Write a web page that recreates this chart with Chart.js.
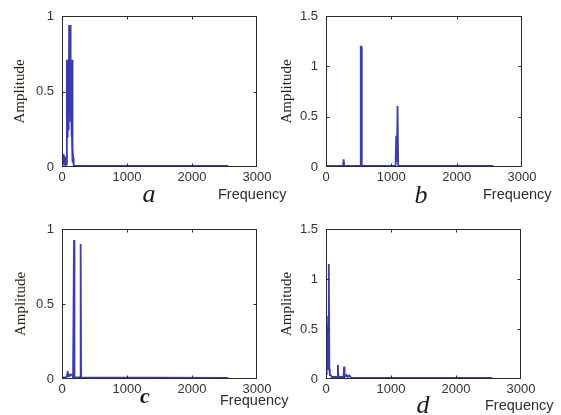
<!DOCTYPE html>
<html><head><meta charset="utf-8">
<script src="https://cdn.jsdelivr.net/npm/chart.js@4.4.0/dist/chart.umd.min.js"></script>
<style>
html,body{margin:0;padding:0;background:#fff;width:561px;height:415px;overflow:hidden;position:relative}
canvas{position:absolute}
</style></head><body>
<canvas id="ca" width="290" height="207" style="left:0;top:0"></canvas>
<canvas id="cb" width="297" height="207" style="left:264px;top:0"></canvas>
<canvas id="cc" width="290" height="208" style="left:0;top:207px"></canvas>
<canvas id="cd" width="297" height="208" style="left:264px;top:207px"></canvas>
<script>
// ---- tick values / labels ----
const xTicks = [0, 1000, 2000, 3000];
const xTickLabels = ['0', '1000', '2000', '3000'];
const yTicksSmall = [0, 0.5, 1];
const yTickLabelsSmall = ['0', '0.5', '1'];
const yTicksLarge = [0, 0.5, 1, 1.5];
const yTickLabelsLarge = ['0', '0.5', '1', '1.5'];
const panelLetters = ['a', 'b', 'c', 'd'];
const xTitle = 'Frequency';
const yTitle = 'Amplitude';

// ---- spectra ----
const freqA = [0, 10, 20, 25, 30, 40, 45, 52, 60, 70, 75, 80, 87, 93, 100, 105, 110, 115, 120, 125, 130, 135, 140, 145, 150, 155, 160, 165, 172, 180, 190, 2560];
const ampA  = [0.01, 0.02, 0.085, 0.03, 0.08, 0.02, 0.07, 0.01, 0.01, 0.02, 0.71, 0.2, 0.71, 0.25, 0.71, 0.3, 0.94, 0.4, 0.94, 0.45, 0.94, 0.3, 0.71, 0.2, 0.71, 0.15, 0.71, 0.03, 0.06, 0.01, 0.008, 0.008];

const freqB = [0, 260, 270, 280, 525, 532, 540, 548, 1065, 1075, 1085, 1095, 1105, 1115, 2560];
const ampB  = [0.01, 0.01, 0.076, 0.01, 0.01, 1.195, 1.195, 0.01, 0.01, 0.31, 0.05, 0.606, 0.02, 0.01, 0.01];

const freqC = [0, 70, 80, 87, 95, 105, 120, 140, 160, 170, 178, 185, 192, 280, 287, 294, 2560];
const ampC  = [0.01, 0.01, 0.03, 0.055, 0.02, 0.03, 0.02, 0.03, 0.025, 0.01, 0.01, 0.927, 0.01, 0.01, 0.9, 0.01, 0.008];

const freqD = [0, 8, 14, 22, 32, 40, 46, 52, 60, 70, 90, 120, 150, 175, 183, 191, 200, 260, 270, 278, 286, 300, 315, 330, 345, 360, 375, 390, 2560];
const ampD  = [0.05, 0.63, 0.62, 0.3, 0.1, 0.6, 1.15, 0.1, 0.04, 0.04, 0.02, 0.02, 0.02, 0.02, 0.14, 0.02, 0.02, 0.02, 0.02, 0.125, 0.02, 0.03, 0.04, 0.02, 0.03, 0.035, 0.02, 0.01, 0.01];

const lineColor = '#3b3bb8';
const tickColor = '#333333';

const framePlugin = {
  id: 'frame',
  afterDraw(chart, args, opts) {
    const {ctx, chartArea: a, scales} = chart;
    ctx.save();
    ctx.strokeStyle = '#2a2a2a';
    ctx.lineWidth = 1;
    const L = Math.round(a.left) + 0.5, R = Math.round(a.right) - 0.5;
    const T = Math.round(a.top) + 0.5, B = Math.round(a.bottom) - 0.5;
    ctx.strokeRect(L, T, R - L, B - T);
    ctx.beginPath();
    scales.x.ticks.forEach(t => {
      const p = Math.round(scales.x.getPixelForValue(t.value)) + 0.5;
      if (p <= L + 1 || p >= R - 1) return;
      ctx.moveTo(p, B); ctx.lineTo(p, B - 3);
      ctx.moveTo(p, T); ctx.lineTo(p, T + 3);
    });
    scales.y.ticks.forEach(t => {
      const p = Math.round(scales.y.getPixelForValue(t.value)) + 0.5;
      if (p <= T + 1 || p >= B - 1) return;
      ctx.moveTo(L, p); ctx.lineTo(L + 3, p);
      ctx.moveTo(R, p); ctx.lineTo(R - 3, p);
    });
    ctx.stroke();
    // panel letter and x label
    ctx.fillStyle = '#1a1a1a';
    ctx.textAlign = 'center';
    ctx.textBaseline = 'alphabetic';
    ctx.font = opts.letterFont;
    ctx.fillText(opts.letter, opts.lx, opts.ly);
    ctx.fillStyle = '#2e2e2e';
    ctx.textAlign = 'left';
    ctx.font = '14.5px "Liberation Sans", Arial, sans-serif';
    ctx.fillText(xTitle, opts.fx, opts.fy);
    ctx.restore();
  }
};

function makeChart(id, freq, amp, yMax, yTicks, yLabels, cfg) {
  new Chart(document.getElementById(id), {
    type: 'line',
    data: {
      datasets: [{
        data: freq.map((f, i) => ({x: f, y: amp[i]})),
        borderColor: lineColor,
        borderWidth: 1.8,
        pointRadius: 0,
        tension: 0,
        fill: false
      }]
    },
    options: {
      responsive: false,
      animation: false,
      devicePixelRatio: 1,
      layout: {padding: {left: 0, top: cfg.top, right: cfg.right, bottom: 0}},
      plugins: {
        legend: {display: false},
        tooltip: {enabled: false},
        frame: cfg.frame
      },
      scales: {
        x: {
          type: 'linear', min: 0, max: 3000,
          afterBuildTicks: s => { s.ticks = xTicks.map(v => ({value: v})); },
          ticks: {
            callback: v => xTickLabels[xTicks.indexOf(v)],
            color: tickColor, font: {family: '"Liberation Sans", Arial, sans-serif', size: 13},
            padding: 3, maxRotation: 0, autoSkip: false
          },
          grid: {display: false, drawTicks: false},
          border: {display: false},
          afterFit: s => { s.height = cfg.xh; }
        },
        y: {
          min: 0, max: yMax,
          afterBuildTicks: s => { s.ticks = yTicks.map(v => ({value: v})); },
          ticks: {
            callback: v => yLabels[yTicks.indexOf(v)],
            color: tickColor, font: {family: '"Liberation Sans", Arial, sans-serif', size: 13},
            padding: 8, autoSkip: false
          },
          grid: {display: false, drawTicks: false},
          border: {display: false},
          title: {
            display: true, text: yTitle, color: '#2b1d12',
            font: {family: '"Liberation Serif", "Times New Roman", serif', size: 15},
            padding: {top: cfg.tp, bottom: 0}
          },
          afterFit: s => { s.width = 62; }
        }
      }
    },
    plugins: [framePlugin]
  });
}

makeChart('ca', freqA, ampA, 1, yTicksSmall, yTickLabelsSmall,
  {top: 16, right: 33, xh: 40, tp: 11,
   frame: {letter: panelLetters[0], letterFont: 'italic 26px "Liberation Serif", serif', lx: 149, ly: 202, fx: 218, fy: 199}});
makeChart('cb', freqB, ampB, 1.5, yTicksLarge, yTickLabelsLarge,
  {top: 16, right: 39, xh: 40, tp: 14,
   frame: {letter: panelLetters[1], letterFont: 'italic 26px "Liberation Serif", serif', lx: 157, ly: 203, fx: 219, fy: 199}});
makeChart('cc', freqC, ampC, 1, yTicksSmall, yTickLabelsSmall,
  {top: 22, right: 33, xh: 36, tp: 12,
   frame: {letter: panelLetters[2], letterFont: 'italic bold 22px "Liberation Serif", serif', lx: 145, ly: 196, fx: 220, fy: 198}});
makeChart('cd', freqD, ampD, 1.5, yTicksLarge, yTickLabelsLarge,
  {top: 22, right: 40, xh: 36, tp: 14,
   frame: {letter: panelLetters[3], letterFont: 'italic 26px "Liberation Serif", serif', lx: 159, ly: 206, fx: 221, fy: 203}});
</script>
</body></html>
